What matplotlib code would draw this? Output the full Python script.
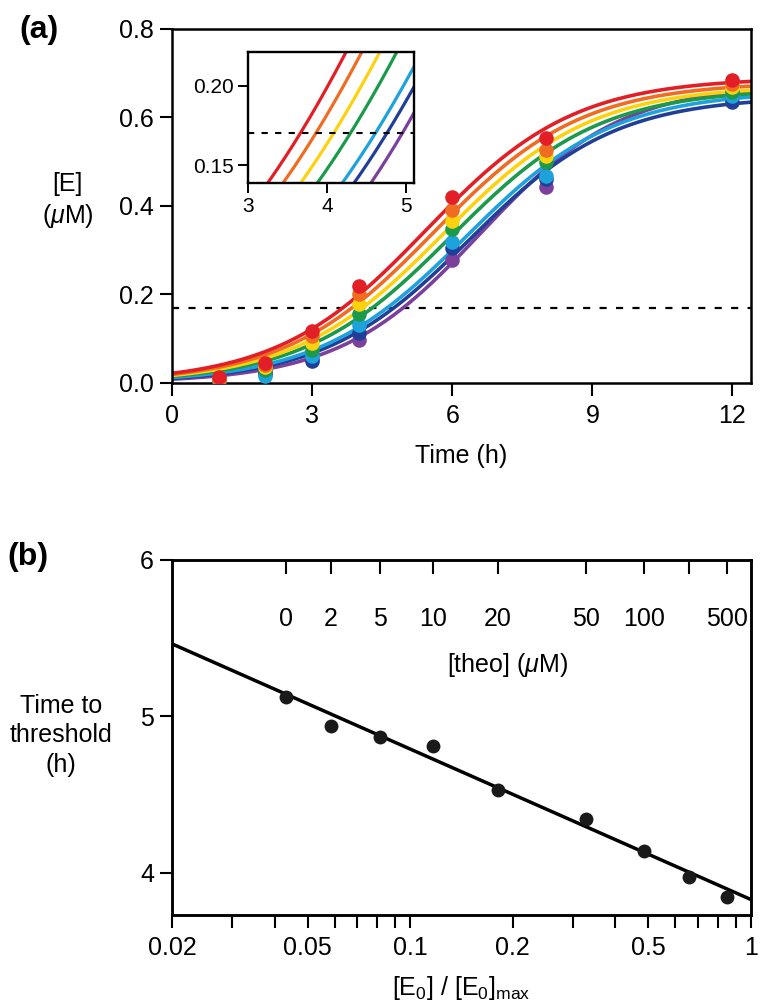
"""
    (a) [E] vs time for several [E0]; (b) time to threshold vs [E0]/[E0]max
"""
import matplotlib
matplotlib.use('Agg')
from matplotlib import pyplot as plt
from matplotlib.ticker import FixedLocator, FixedFormatter, NullLocator, NullFormatter
import numpy as np

plt.rcParams['font.family'] = ['Liberation Sans', 'DejaVu Sans']
plt.rcParams['mathtext.fontset'] = 'custom'
plt.rcParams['mathtext.rm'] = 'Liberation Sans'
plt.rcParams['mathtext.it'] = 'Liberation Sans:italic'
plt.rcParams['mathtext.bf'] = 'Liberation Sans:bold'

# ---- panel (a) data ----
colors = ['#7b3f9c', '#223f98', '#1ea2dc', '#1a9a4a', '#fcd20f', '#ef6c23', '#e21f26']
sample_time = [1, 2, 3, 4, 6, 8, 12]
# measured [E] (uM), purple -> red
E_purple = [0.005, 0.025, 0.055, 0.098, 0.278, 0.443, 0.648]
E_blue = [0.004, 0.020, 0.050, 0.113, 0.306, 0.460, 0.636]
E_cyan = [0.006, 0.016, 0.062, 0.130, 0.318, 0.467, 0.648]
E_green = [0.007, 0.030, 0.074, 0.155, 0.348, 0.499, 0.658]
E_yellow = [0.008, 0.035, 0.090, 0.179, 0.366, 0.512, 0.668]
E_orange = [0.010, 0.040, 0.106, 0.200, 0.390, 0.526, 0.676]
E_red = [0.013, 0.045, 0.118, 0.220, 0.420, 0.553, 0.684]
E_all = [E_purple, E_blue, E_cyan, E_green, E_yellow, E_orange, E_red]
# fitted logistic curves: plateau, rate (1/h), midpoint (h)
fit_plateau = [0.675, 0.648, 0.660, 0.665, 0.672, 0.680, 0.690]
fit_rate = [0.66, 0.64, 0.63, 0.63, 0.63, 0.63, 0.63]
fit_mid = [6.60, 6.37, 6.29, 5.99, 5.80, 5.60, 5.435]
threshold = 0.17

# ---- panel (b) data ----
e0_frac = [0.0432, 0.0586, 0.0815, 0.1166, 0.1806, 0.328, 0.485, 0.658, 0.849]
theo_labels = ['0', '2', '5', '10', '20', '50', '100', '', '500']
t_threshold = [5.123, 4.936, 4.868, 4.809, 4.532, 4.343, 4.138, 3.973, 3.849]
fit_b_x = [0.02, 1.0]
fit_b_y = [5.464, 3.830]


def logistic(t, a, k, t0):
    return a / (1 + np.exp(-k * (t - t0)))


fig = plt.figure(figsize=(7.61, 10.06), dpi=100)

# 块 a
ax1 = fig.add_axes([0.226, 0.6193, 0.761, 0.3519])
tt = np.linspace(0, 12.4, 300)
for c, a, k, t0 in zip(colors, fit_plateau, fit_rate, fit_mid):
    ax1.plot(tt, logistic(tt, a, k, t0), color=c, lw=2.6, zorder=2)
for c, e in zip(colors, E_all):
    ax1.plot(sample_time, e, 'o', color=c, ms=10.5, mec='none', zorder=3)
ax1.axhline(threshold, color='black', lw=1.6, dashes=(3.2, 4.2), zorder=1)
ax1.set_xlim(0, 12.4)
ax1.set_ylim(0, 0.8)
ax1.set_xticks([0, 3, 6, 9, 12])
ax1.set_yticks([0, 0.2, 0.4, 0.6, 0.8])
ax1.set_yticklabels(['0.0', '0.2', '0.4', '0.6', '0.8'])
ax1.tick_params(direction='out', length=9, width=1.5, labelsize=18, pad=4)
ax1.tick_params(axis='x', pad=6)
for s in ax1.spines.values():
    s.set_linewidth(1.8)
ax1.set_xlabel('Time (h)', fontsize=18, labelpad=12)
fig.text(0.089, 0.80, '[E]\n($\\mathit{\\mu}$M)', fontsize=18, ha='center',
         va='center', linespacing=1.3)
fig.text(0.025, 0.97, '(a)', fontsize=23, fontweight='bold', va='center')

# 插图
axi = fig.add_axes([0.3259, 0.8181, 0.2181, 0.1302])
ti = np.linspace(3, 5.1, 200)
for c, a, k, t0 in zip(colors, fit_plateau, fit_rate, fit_mid):
    axi.plot(ti, logistic(ti, a, k, t0), color=c, lw=2.3)
axi.axhline(threshold, color='black', lw=1.5, dashes=(3.0, 3.5))
axi.set_xlim(3, 5.1)
axi.set_ylim(0.139, 0.221)
axi.set_xticks([3, 4, 5])
axi.set_yticks([0.15, 0.20])
axi.set_yticklabels(['0.15', '0.20'])
axi.tick_params(direction='out', length=7, width=1.4, labelsize=15, pad=3)
for s in axi.spines.values():
    s.set_linewidth(1.7)

# 块 b
ax2 = fig.add_axes([0.226, 0.0902, 0.761, 0.3532])
ax2.set_xscale('log')
ax2.plot(fit_b_x, fit_b_y, color='black', lw=2.5)
ax2.plot(e0_frac, t_threshold, 'o', color='#1a1a1a', ms=10, mec='none')
ax2.set_xlim(0.02, 1)
ax2.set_ylim(3.73, 6)
ax2.xaxis.set_major_locator(FixedLocator([0.02, 0.05, 0.1, 0.2, 0.5, 1]))
ax2.xaxis.set_major_formatter(FixedFormatter(['0.02', '0.05', '0.1', '0.2', '0.5', '1']))
ax2.xaxis.set_minor_locator(FixedLocator([0.03, 0.04, 0.06, 0.07, 0.08, 0.09,
                                          0.3, 0.4, 0.6, 0.7, 0.8, 0.9]))
ax2.xaxis.set_minor_formatter(NullFormatter())
ax2.set_yticks([4, 5, 6])
ax2.tick_params(which='both', direction='out', length=9, width=1.5, labelsize=18, pad=4)
ax2.tick_params(axis='x', which='both', pad=6)
for s in ax2.spines.values():
    s.set_linewidth(1.8)
ax2.set_xlabel('[E$_0$] / [E$_0$]$_{\\mathrm{max}}$', fontsize=18, labelpad=10)

# 上轴 [theo]
ax3 = ax2.twiny()
ax3.set_xscale('log')
ax3.set_xlim(ax2.get_xlim())
ax3.xaxis.set_major_locator(FixedLocator(e0_frac))
ax3.xaxis.set_major_formatter(FixedFormatter(theo_labels))
ax3.xaxis.set_minor_locator(NullLocator())
ax3.tick_params(axis='x', direction='in', length=10, width=1.5, labelsize=18, pad=-51)
for s in ax3.spines.values():
    s.set_linewidth(1.8)
ax2.text(0.579, 0.705, '[theo] ($\\mathit{\\mu}$M)', transform=ax2.transAxes,
         fontsize=18, ha='center', va='center')

fig.text(0.080, 0.269, 'Time to\nthreshold\n(h)', fontsize=18, ha='center',
         va='center', linespacing=1.3)
fig.text(0.010, 0.446, '(b)', fontsize=23, fontweight='bold', va='center')

fig.savefig('out.png', dpi=100)
